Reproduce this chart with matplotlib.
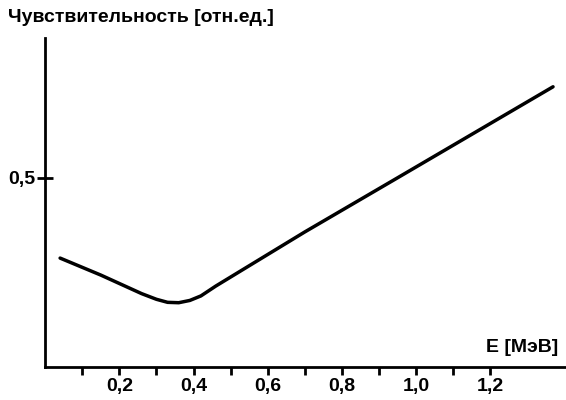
import matplotlib.pyplot as plt

plt.rcParams['font.family'] = ['Liberation Sans', 'DejaVu Sans']
plt.rcParams['font.weight'] = 'bold'

# energy, MeV and relative sensitivity
energy = [0.04, 0.15, 0.26, 0.30, 0.33, 0.36, 0.39, 0.42, 0.46, 0.70, 0.95, 1.37]
sens = [0.288, 0.243, 0.194, 0.179, 0.171, 0.170, 0.176, 0.188, 0.214, 0.357, 0.50, 0.741]

x_ticks = [0.1, 0.2, 0.3, 0.4, 0.5, 0.6, 0.7, 0.8, 0.9, 1.0, 1.1, 1.2]
x_labels = ["", "0,2", "", "0,4", "", "0,6", "", "0,8", "", "1,0", "", "1,2"]
y_ticks = [0.5]
y_labels = ["0,5"]

fig = plt.figure(figsize=(5.66, 4.0), dpi=100)
ax = fig.add_axes([0.080, 0.0825, 0.92, 0.8225])

ax.plot(energy, sens, color="black", lw=2.5, solid_capstyle="round", solid_joinstyle="round")

ax.set_xlim(0.0, 1.405)
ax.set_ylim(0.0, 0.87)
ax.spines['top'].set_visible(False)
ax.spines['right'].set_visible(False)
ax.spines['left'].set_linewidth(2)
ax.spines['bottom'].set_linewidth(2)

ax.set_xticks(x_ticks)
ax.set_xticklabels(x_labels, fontsize=14, fontweight="bold")
ax.set_yticks(y_ticks)
ax.set_yticklabels(y_labels, fontsize=14, fontweight="bold")
ax.tick_params(axis='x', direction='out', length=6, width=2, pad=2)
ax.tick_params(axis='y', direction='inout', length=12, width=2, pad=1)

fig.text(0.014, 0.955, "Чувствительность [отн.ед.]", fontsize=14, fontweight="bold",
         ha="left", va="center")
ax.text(0.985, 0.06, "E [МэВ]", transform=ax.transAxes, fontsize=14, fontweight="bold",
        ha="right", va="center")

fig.savefig("out.png", dpi=100)
